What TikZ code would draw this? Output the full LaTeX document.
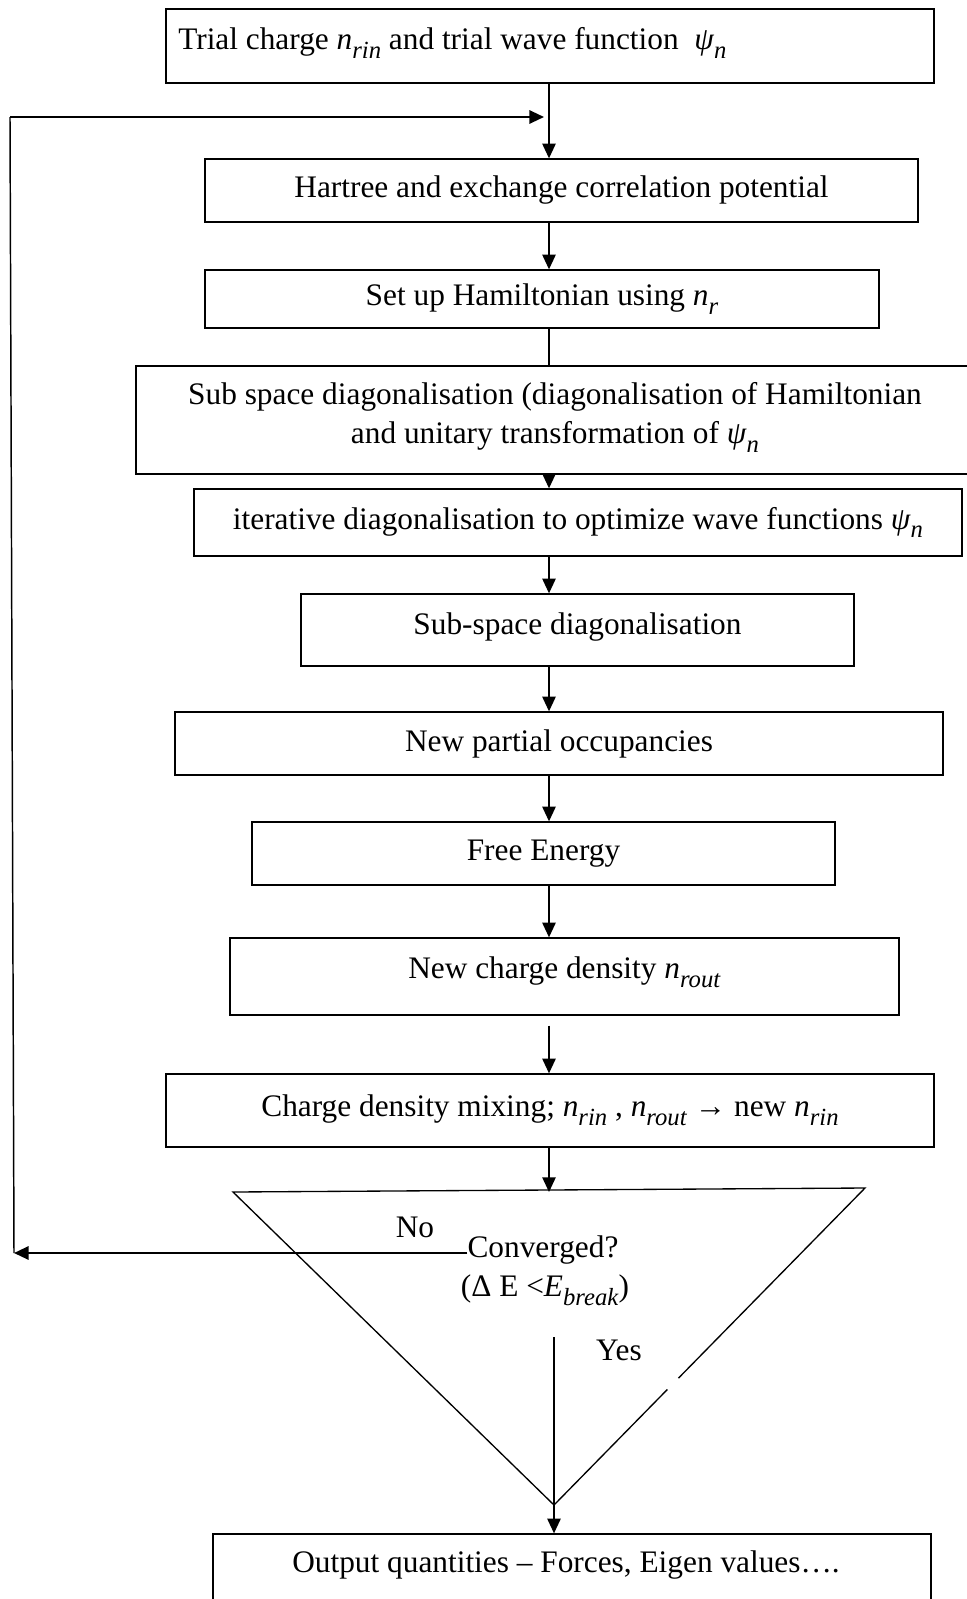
\documentclass[tikz,border=0pt]{standalone}
\usepackage{fontspec}
\setmainfont{Liberation Serif}
\usetikzlibrary{arrows.meta,calc}
\newcommand\mysub[2]{\textit{#1}\raisebox{-0.28em}{\fontsize{18.5}{19}\selectfont\textit{#2}}}
\begin{document}
\begin{tikzpicture}[x=0.75pt,y=-0.75pt,
  every node/.style={font=\fontsize{23.5}{28}\selectfont},
  box/.style={draw,line width=1pt,inner sep=0pt},
  lbl/.style={inner sep=0pt},
  tip/.tip={Triangle[length=11pt,width=10pt]},
  arr/.style={line width=1.1pt,-tip},
  plain/.style={line width=1.1pt},
  fb/.style={line width=1.6pt}]
\useasboundingbox (0,0) rectangle (967,1599);
\clip (0,0) rectangle (967,1599);
\coordinate (ax) at (549,0);
% boxes
\node[box,minimum width=768*0.75pt,minimum height=74*0.75pt] (b1) at (550,46) {};
\node[lbl,anchor=west] (t1) at (178,43) {Trial charge \mysub{n}{rin} and trial wave function~ \mysub{ψ}{n}};
\node[box,minimum width=713*0.75pt,minimum height=63*0.75pt] (b2) at (561.5,190.5) {Hartree and exchange correlation potential};
\node[box,minimum width=674*0.75pt,minimum height=58*0.75pt] (b3) at (542,299) {Set up Hamiltonian using \mysub{n}{r}};
\node[box,minimum width=834*0.75pt,minimum height=108*0.75pt] (b4) at (553,420) {};
\node[lbl] (t4a) at (555,397) {Sub space diagonalisation (diagonalisation of Hamiltonian};
\node[lbl] (t4b) at (555,437) {and unitary transformation of \mysub{ψ}{n}};
\node[box,minimum width=768*0.75pt,minimum height=67*0.75pt] (b5) at (578,522.5) {iterative diagonalisation to optimize wave functions \mysub{ψ}{n}};
\node[box,minimum width=553*0.75pt,minimum height=72*0.75pt] (b6) at (577.5,630) {};
\node[lbl] (t6) at (577.5,627) {Sub-space diagonalisation};
\node[box,minimum width=768*0.75pt,minimum height=63*0.75pt] (b7) at (559,743.5) {New partial occupancies};
\node[box,minimum width=583*0.75pt,minimum height=63*0.75pt] (b8) at (543.5,853.5) {Free Energy};
\node[box,minimum width=669*0.75pt,minimum height=77*0.75pt] (b9) at (564.5,976.5) {};
\node[lbl] (t9) at (564.5,972) {New charge density \mysub{n}{rout}};
\node[box,minimum width=768*0.75pt,minimum height=73*0.75pt] (b10) at (550,1110.5) {Charge density mixing; \mysub{n}{rin} , \mysub{n}{rout} → new \mysub{n}{rin}};
\node[box,minimum width=718*0.75pt,minimum height=86*0.75pt] (out) at (572,1577) {};
\node[lbl] (tout) at (566,1565) {Output quantities – Forces, Eigen values….};
% decision triangle
\coordinate (tl) at (233,1192);
\coordinate (tr) at (865,1188);
\coordinate (tb) at (554,1505);
\draw[line width=1pt] (tl) -- (tr) -- (tb) -- cycle;
\draw[white,line width=2.5pt] ($(tr)!0.60!(tb)$) -- ($(tr)!0.635!(tb)$);
\node[lbl] (no) at (415,1227) {No};
\node[lbl] (conv) at (543,1250) {Converged?};
\node[lbl] (cond) at (545,1290) {(Δ E <\mysub{E}{break})};
\node[lbl] (yes) at (619,1350) {Yes};
\coordinate (ys) at (554,1337);
% connectors
\draw[arr] (b1.south -| ax) -- (b2.north -| ax);
\draw[arr] (b2.south -| ax) -- (b3.north -| ax);
\draw[plain] (b3.south -| ax) -- (b4.north -| ax);
\draw[arr] (b4.south -| ax) -- (b5.north -| ax);
\draw[arr] (b5.south -| ax) -- (b6.north -| ax);
\draw[arr] (b6.south -| ax) -- (b7.north -| ax);
\draw[arr] (b7.south -| ax) -- (b8.north -| ax);
\draw[arr] (b8.south -| ax) -- (b9.north -| ax);
\draw[arr] ([yshift=-7.5pt]b9.south -| ax) -- (b10.north -| ax);
\draw[arr] (b10.south -| ax) -- (ax |- tl);
\draw[plain] (ys) -- (tb);
\draw[arr] (tb) -- (out.north -| tb);
% feedback loop
\coordinate (fbl) at (14,1253);
\coordinate (fbt) at (10,117);
\coordinate (fbr) at (544,117);
\draw[fb,-tip] (conv.west |- fbl) -- (fbl);
\draw[line width=1.1pt] (fbl) -- (fbt);
\draw[fb,-tip] (fbt) -- (fbr);
\end{tikzpicture}
\end{document}
